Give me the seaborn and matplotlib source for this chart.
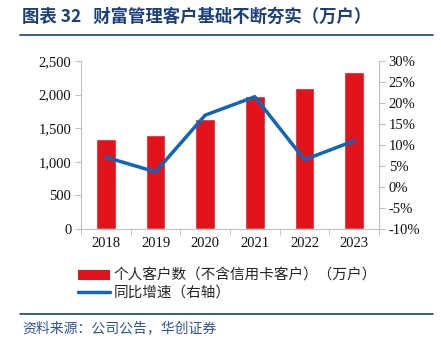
import matplotlib
matplotlib.use("Agg")
import matplotlib.pyplot as plt
from matplotlib.patches import Patch
from matplotlib.lines import Line2D
from matplotlib.ticker import FuncFormatter, MultipleLocator, FixedLocator
import seaborn as sns
import pandas as pd
import numpy as np

years = ["2018", "2019", "2020", "2021", "2022", "2023"]
customers = [1344, 1394, 1632, 1984, 2103, 2336]
growth = [7.1, 3.6, 17.1, 21.5, 6.5, 11.0]

title = "图表 32   财富管理客户基础不断夯实（万户）"
legend_bar = "个人客户数（不含信用卡客户）（万户）"
legend_line = "同比增速（右轴）"
source = "资料来源：公司公告，华创证券"

sns.set_style("white")
plt.rcParams['font.family'] = ['Noto Sans CJK SC', 'DejaVu Sans']

RED = "#E3131C"
BLUE = "#0E66B9"
NAVY = "#1B3F7A"
GRAY = "#BFBFBF"

df = pd.DataFrame({"year": years, "customers": customers, "growth": growth})
df["pos"] = range(len(years))

fig = plt.figure(figsize=(4.41, 3.44), dpi=100)
ax = fig.add_axes([81/441, 1-229/344, 298/441, 168/344])
sns.barplot(data=df, x="year", y="customers", color=RED, width=0.4,
            saturation=1, ax=ax, order=years)
ax.set_xlim(-0.5, 5.5)
ax.set_ylim(0, 2500)
ax.yaxis.set_major_locator(MultipleLocator(500))
ax.yaxis.set_major_formatter(FuncFormatter(lambda v, p: f"{int(v):,}"))
ax.set_xlabel("")
ax.set_ylabel("")

ax2 = ax.twinx()
sns.lineplot(data=df, x="pos", y="growth", color=BLUE, linewidth=2.5, ax=ax2)
ax2.set_ylim(-10, 30)
ax2.yaxis.set_major_locator(MultipleLocator(5))
ax2.yaxis.set_major_formatter(FuncFormatter(lambda v, p: f"{int(round(v))}%"))
ax2.set_xlim(-0.5, 5.5)
ax2.set_xlabel("")
ax2.set_ylabel("")

serif = "Liberation Serif"
for a in (ax, ax2):
    for s in a.spines.values():
        s.set_visible(False)
ax.spines["left"].set_visible(True)
ax.spines["left"].set_color(GRAY)
ax.spines["bottom"].set_visible(True)
ax.spines["bottom"].set_color(GRAY)
ax2.spines["right"].set_visible(True)
ax2.spines["right"].set_color(GRAY)

ax.tick_params(axis="y", left=True, length=4, color=GRAY, labelsize=10.5, pad=3)
ax2.tick_params(axis="y", right=True, length=4, color=GRAY, labelsize=10.5, pad=3)
ax.tick_params(axis="x", which="major", bottom=False, length=0, labelsize=10.5, pad=6)
ax.xaxis.set_minor_locator(FixedLocator(np.arange(-0.5, 6, 1.0)))
ax.tick_params(axis="x", which="minor", bottom=True, length=4, color=GRAY)
for lab in ax.get_xticklabels() + ax.get_yticklabels() + ax2.get_yticklabels():
    lab.set_fontfamily(serif)
    lab.set_color("#111111")

# title and separators
fig.text(22/441, 1-17/344, title, fontsize=12.5, fontweight="bold", color=NAVY,
         va="center", ha="left")
fig.add_artist(Line2D([20/441, 433/441], [1-35/344, 1-35/344], color=NAVY, lw=1.2))
fig.add_artist(Line2D([20/441, 433/441], [1-314/344, 1-314/344], color=NAVY, lw=1.2))
fig.text(22/441, 1-328/344, source, fontsize=10, color="#2E5597", va="center",
         ha="left", style="italic")

handles = [Patch(facecolor=RED, edgecolor="none"),
           Line2D([0], [0], color=BLUE, lw=2.5)]
fig.legend(handles, [legend_bar, legend_line], loc="upper left",
           bbox_to_anchor=(78/441, 1-269/344), frameon=False, fontsize=10.5,
           handlelength=2.2, handletextpad=0.25, labelspacing=0.2,
           borderaxespad=0, borderpad=0)

fig.savefig("out.png", dpi=100)
